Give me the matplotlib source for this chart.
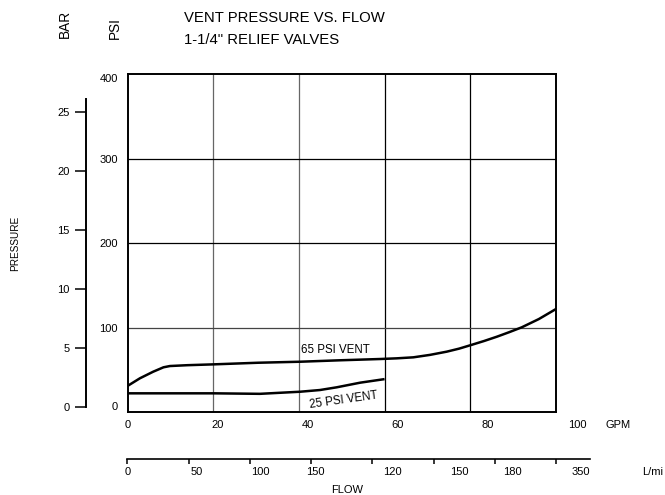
import numpy as np
import matplotlib.pyplot as plt

plt.rcParams['font.family'] = ['Liberation Sans', 'DejaVu Sans']

# --- data ---
# flow in GPM, pressure in PSI
vent65_gpm = [0, 2.9, 6.0, 8.4, 9.9, 14.0, 20.2, 30.5, 40.3, 49.6, 58.9, 62.8,
              66.7, 70.6, 74.5, 77.4, 80.2, 83.2, 86.2, 89.1, 92.0, 96.0, 100]
vent65_psi = [30.8, 39.9, 47.7, 52.9, 54.4, 55.4, 56.4, 58.3, 59.5, 61.2, 62.7, 63.5,
              64.7, 67.6, 71.4, 75.0, 79.3, 84.0, 89.1, 94.5, 100.2, 110.0, 121.9]

vent25_gpm = [0, 20.2, 30.9, 40.3, 44.9, 48.8, 54.3, 59.7]
vent25_psi = [22.1, 22.1, 21.5, 24.0, 26.0, 29.2, 34.7, 38.7]

psi_ticks = [0, 100, 200, 300, 400]
bar_ticks = [0, 5, 10, 15, 20, 25]
gpm_ticks = [0, 20, 40, 60, 80, 100]
grid_gpm = [20, 40, 60, 80]
grid_psi = [100, 200, 300]

flow_ticks = [0, 50, 100, 150, 200, 250, 300, 350]
flow_labels = ['0', '50', '100', '150', '120', '150', '180', '350']
# where the (misplaced) L/min labels sit, in L/min units
flow_label_pos = [0, 56.6, 108.8, 153.2, 216.2, 270.9, 314.4, 369.9]

W, H = 665, 495


def fx(px):
    return px / W


def fy(py):
    return 1 - py / H


fig = plt.figure(figsize=(W / 100, H / 100), dpi=100)

# main PSI chart
ax = fig.add_axes([fx(127.5), fy(412), (556 - 127.5) / W, (412 - 74) / H])
ax.set_xlim(0, 100)
ax.set_ylim(0, 400)
for g in grid_gpm:
    ax.axvline(g, color='#666666' if g < 50 else 'black', lw=0.9)
for g in grid_psi:
    ax.axhline(g, color='#444444' if g == 100 else 'black', lw=0.9)
for s in ax.spines.values():
    s.set_linewidth(1.4)

ax.plot(vent65_gpm, vent65_psi, color='black', lw=1.8)
ax.plot(vent25_gpm, vent25_psi, color='black', lw=1.8)
ax.text(48.5, 73, '65 PSI VENT', fontsize=8.3, ha='center', va='center')
ax.text(50.5, 14, '25 PSI VENT', fontsize=8.3, ha='center', va='center', rotation=8)

ax.set_yticks(psi_ticks)
ax.tick_params(axis='y', length=0, pad=7, labelsize=8)
ylabels = ax.get_yticklabels()
ylabels[0].set_va('bottom')
ylabels[-1].set_va('top')

# GPM labels are stretched a bit past the grid in the original
ax.set_xticks([])
for v in gpm_ticks:
    ax.annotate(str(v), xy=(v * 1.05, 0), xycoords=('data', 'axes fraction'),
                xytext=(0, -9.5), textcoords='offset points',
                ha='center', va='center', fontsize=8, annotation_clip=False)
ax.annotate('GPM', xy=(114.5, 0), xycoords=('data', 'axes fraction'),
            xytext=(0, -9.5), textcoords='offset points',
            ha='center', va='center', fontsize=8, annotation_clip=False)

# BAR scale on the far left
axb = fig.add_axes([fx(86), fy(407), 0.001, (407 - 99) / H])
axb.set_ylim(0, (407 - 99) / 11.8)
axb.set_xticks([])
for k in ['top', 'right', 'bottom']:
    axb.spines[k].set_visible(False)
axb.spines['left'].set_linewidth(1.4)
axb.set_yticks(bar_ticks)
axb.tick_params(axis='y', direction='out', length=8, width=1.1, pad=4, labelsize=8)
axb.patch.set_visible(False)

# L/min scale at the bottom
axf = fig.add_axes([fx(127.3), fy(459), (590 - 127.3) / W, 0.001])
axf.set_xlim(0, (590 - 127.3) / 1.2254)
axf.set_yticks([])
for k in ['top', 'right', 'left']:
    axf.spines[k].set_visible(False)
axf.spines['bottom'].set_linewidth(1.2)
axf.set_xticks(flow_ticks, labels=[''] * len(flow_ticks))
axf.tick_params(axis='x', direction='out', length=3.5, width=1.1)
axf.patch.set_visible(False)
for pos, lab in zip(flow_label_pos, flow_labels):
    axf.annotate(lab, xy=(pos, 0), xycoords=('data', 'axes fraction'),
                 xytext=(0, -9.5), textcoords='offset points',
                 ha='center', va='center', fontsize=8, annotation_clip=False)
axf.annotate('L/mi', xy=(420.0, 0), xycoords=('data', 'axes fraction'),
             xytext=(0, -9.5), textcoords='offset points',
             ha='left', va='center', fontsize=8, annotation_clip=False)
axf.annotate('FLOW', xy=(179, 0), xycoords=('data', 'axes fraction'),
             xytext=(0, -22.5), textcoords='offset points',
             ha='center', va='center', fontsize=8, annotation_clip=False)

# titles and axis captions
fig.text(fx(184), fy(18), 'VENT PRESSURE VS. FLOW', fontsize=10.7, ha='left', va='center')
fig.text(fx(184), fy(40), '1-1/4" RELIEF VALVES', fontsize=10.7, ha='left', va='center')
fig.text(fx(65), fy(24), 'BAR', fontsize=9.8, rotation=90, ha='center', va='center')
fig.text(fx(115), fy(28), 'PSI', fontsize=9.8, rotation=90, ha='center', va='center')
fig.text(fx(15), fy(243), 'PRESSURE', fontsize=7.2, rotation=90, ha='center', va='center')

fig.savefig('out.png', dpi=100)
